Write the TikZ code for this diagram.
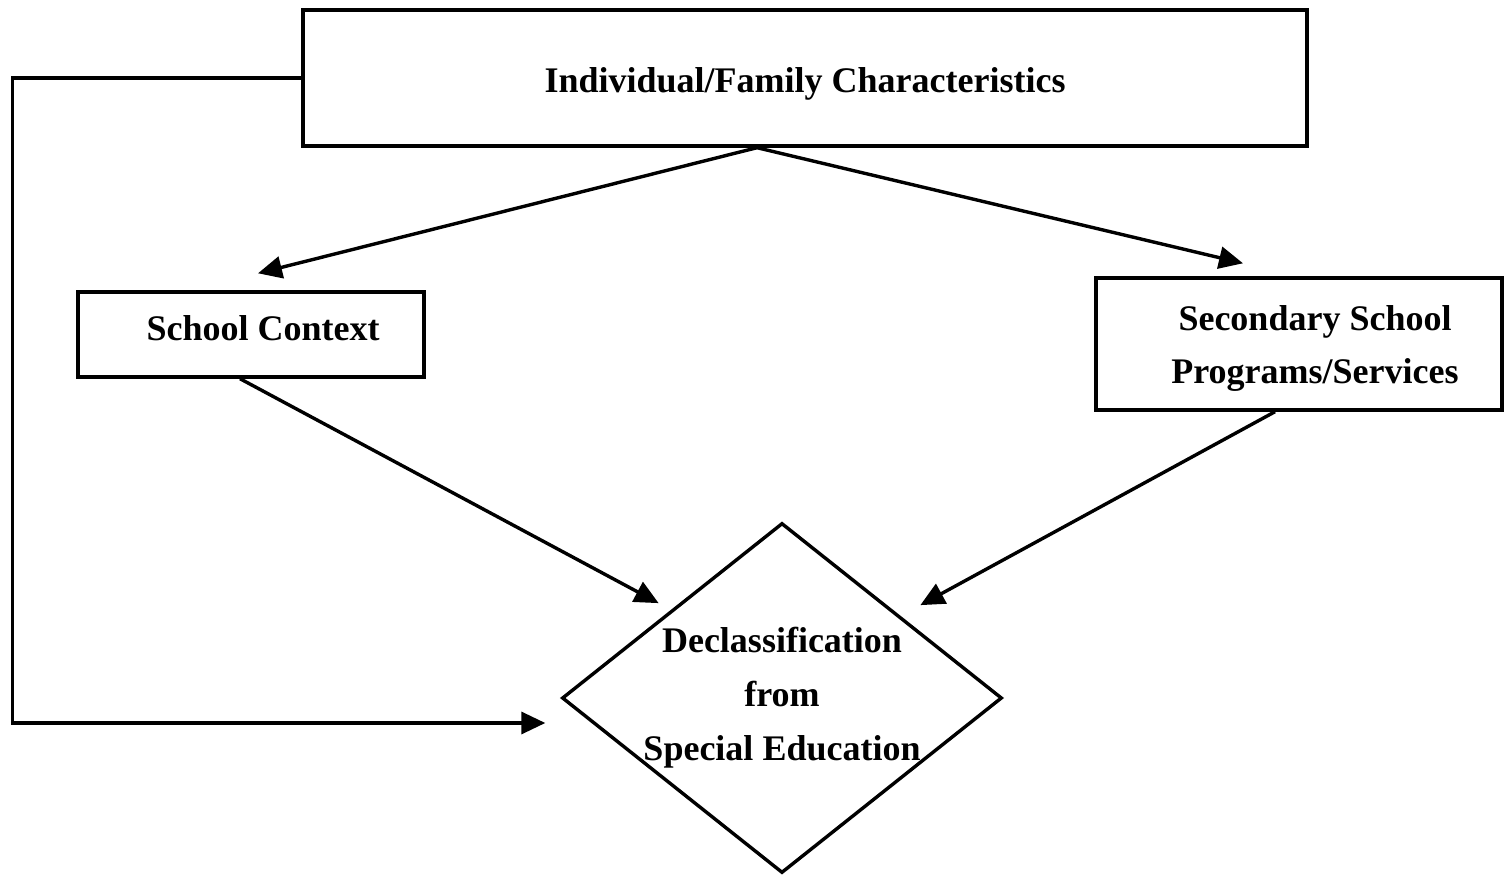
\documentclass[tikz,border=0pt]{standalone}
\usepackage{fontspec}
\setmainfont{Liberation Serif}
\usetikzlibrary{shapes,arrows.meta}
\tikzstyle{block} = [rectangle, draw, line width=1.7pt, align=center,
  font=\bfseries\fontsize{18}{26.5}\selectfont]
\tikzstyle{decision} = [diamond, draw, line width=1.7pt, inner sep=0pt,
  minimum width=220pt, minimum height=175pt]
\tikzstyle{label} = [align=center, font=\bfseries\fontsize{18}{27}\selectfont]
\tikzstyle{line} = [draw, line width=1.7pt, -{Triangle[length=12pt, width=11pt]}]
\newcommand{\shiftline}[2]{\raisebox{#1}[\height][\depth]{#2}}

\begin{document}
\begin{tikzpicture}[x=0.5pt, y=-0.5pt]
  \useasboundingbox (0,0) rectangle (1504,876);

  \node [block, minimum width=502pt, minimum height=68pt] (family) at (805,78)
    {\shiftline{-3pt}{Individual/Family Characteristics}};
  \node [block, minimum width=173pt, minimum height=42.5pt] (school) at (251,334.5)
    {\shiftline{3pt}{\hspace{12pt}School Context}};
  \node [block, minimum width=203pt, minimum height=66pt] (secondary) at (1299,344)
    {\shiftline{-2pt}{\hspace{16pt}Secondary School}\\\shiftline{-2pt}{\hspace{16pt}Programs/Services}};
  \node [decision] (declass) at (782,698) {};
  \node [label] (declasstext) at (782,698)
    {Declassification\\from\\Special Education};

  \path [line] ([xshift=-24pt]family.south) -- ([xshift=3.5pt,yshift=8.5pt]school.north);
  \path [line] ([xshift=-24pt]family.south) -- ([xshift=-28pt,yshift=6.5pt]secondary.north);
  \path [line] ([xshift=-5.5pt]school.south) -- ([xshift=-6.25pt,yshift=3.25pt]declass.north west);
  \path [line] ([xshift=-12pt]secondary.south) -- ([xshift=13.75pt,yshift=2.25pt]declass.north east);
  \path [line] (family.west) -- ++(-289,0) |- ([xshift=-7.5pt,yshift=-12.5pt]declass.west);

\end{tikzpicture}
\end{document}
